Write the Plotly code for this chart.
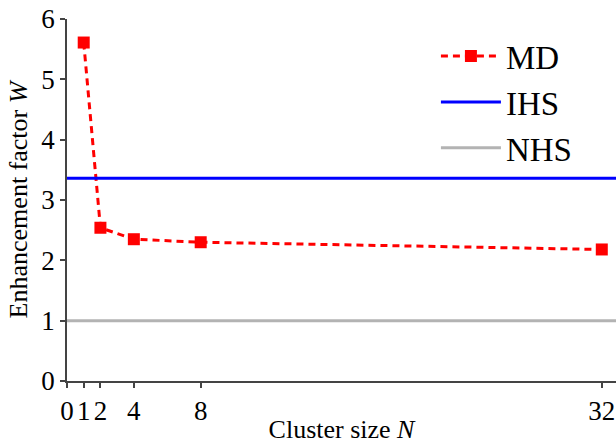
import plotly.graph_objects as go

# Data
cluster_size = [1, 2, 4, 8, 32]
md_values = [5.61, 2.54, 2.35, 2.30, 2.18]
ihs_value = 3.36
nhs_value = 1.0
x_ticks = [0, 1, 2, 4, 8, 32]
y_ticks = [0, 1, 2, 3, 4, 5, 6]
x_range = [0, 32.85]
y_range = [0, 6]

FONT = "Liberation Serif"
TICKFONT = "Times New Roman, Liberation Serif, serif"

fig = go.Figure()
fig.add_trace(go.Scatter(
    x=cluster_size, y=md_values, mode="lines+markers", name="MD",
    line=dict(color="#ff0000", width=3, dash="7px,5px"),
    marker=dict(symbol="square", size=12, color="#ff0000"),
))
fig.add_trace(go.Scatter(
    x=x_range, y=[ihs_value, ihs_value], mode="lines", name="IHS",
    line=dict(color="#0000ff", width=3),
))
fig.add_trace(go.Scatter(
    x=x_range, y=[nhs_value, nhs_value], mode="lines", name="NHS",
    line=dict(color="#b3b3b3", width=3),
))

fig.update_layout(
    width=616, height=444,
    margin=dict(l=67, r=0, t=19, b=63),
    paper_bgcolor="white", plot_bgcolor="white",
    font=dict(family=FONT, color="black", size=26),
    legend=dict(x=0.672, y=0.975, xanchor="left", yanchor="top",
                font=dict(size=33, family=FONT), bgcolor="rgba(0,0,0,0)",
                itemwidth=60, tracegroupgap=0),
    showlegend=True,
)
fig.update_xaxes(
    range=x_range, tickvals=x_ticks, ticktext=[str(t) for t in x_ticks],
    showgrid=False, zeroline=False, showline=True, linecolor="#444444", linewidth=1.5,
    ticks="outside", ticklen=5, tickcolor="#444444", tickwidth=1.5,
    tickfont=dict(size=27, family=TICKFONT), automargin=False, ticklabeloverflow="allow",
    title=dict(text="Cluster size <i>N</i>", font=dict(size=26, family=FONT), standoff=12),
)
fig.update_yaxes(
    range=y_range, tickvals=y_ticks, ticktext=[str(t) for t in y_ticks],
    showgrid=False, zeroline=False, showline=True, linecolor="#444444", linewidth=1.5,
    ticks="outside", ticklen=5, tickcolor="#444444", tickwidth=1.5,
    tickfont=dict(size=27, family=TICKFONT), automargin=False, ticklabeloverflow="allow",
    title=dict(text="Enhancement factor <i>W</i>", font=dict(size=26, family=FONT), standoff=6),
)

fig.write_html("out.html")
